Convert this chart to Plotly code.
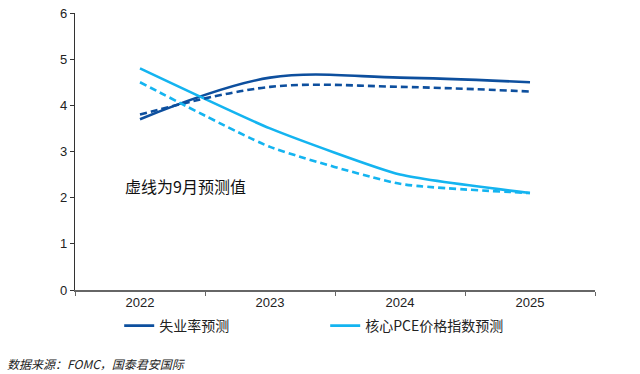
import plotly.graph_objects as go

years = ["2022", "2023", "2024", "2025"]
unemp_dec = [3.7, 4.6, 4.6, 4.5]
unemp_sep = [3.8, 4.4, 4.4, 4.3]
pce_dec = [4.8, 3.5, 2.5, 2.1]
pce_sep = [4.5, 3.1, 2.3, 2.1]
y_ticks = [0, 1, 2, 3, 4, 5, 6]

dark = "#0D4F9E"
light = "#14B4F0"

fig = go.Figure()
fig.add_trace(go.Scatter(x=years, y=unemp_dec, mode="lines", name="失业率预测",
                         line=dict(color=dark, width=2.6, shape="spline", smoothing=1.0)))
fig.add_trace(go.Scatter(x=years, y=pce_dec, mode="lines", name="核心PCE价格指数预测",
                         line=dict(color=light, width=2.6, shape="spline", smoothing=0.5)))
fig.add_trace(go.Scatter(x=years, y=unemp_sep, mode="lines", showlegend=False,
                         line=dict(color=dark, width=2.6, dash="7px,4px", shape="spline", smoothing=1.0)))
fig.add_trace(go.Scatter(x=years, y=pce_sep, mode="lines", showlegend=False,
                         line=dict(color=light, width=2.6, dash="7px,4px", shape="spline", smoothing=0.5)))

fig.update_layout(
    width=640, height=374,
    margin=dict(l=75, r=45, t=13, b=84, autoexpand=False),
    paper_bgcolor="white", plot_bgcolor="white",
    font=dict(family="Liberation Sans, Arial, sans-serif", size=13, color="#222"),
    showlegend=True,
    legend=dict(orientation="h", x=0.085, y=-0.13, xanchor="left", yanchor="middle",
                itemwidth=30, entrywidth=161, entrywidthmode="pixels",
                font=dict(family="Noto Sans CJK SC, sans-serif", size=14, color="#222")),
    xaxis=dict(type="category", range=[-0.5, 3.5], showline=True, linecolor="#666", linewidth=1.5,
               ticks="outside", tickson="boundaries", ticklen=4, tickcolor="#666",
               showgrid=False, zeroline=False, tickfont=dict(size=13)),
    yaxis=dict(range=[0, 6], tickvals=y_ticks, showline=True, linecolor="#333", linewidth=1.2,
               ticks="outside", ticklen=4, tickcolor="#333", showgrid=False, zeroline=False,
               tickfont=dict(size=13)),
)

fig.add_annotation(x=0.092, y=2.25, xref="paper", yref="y", text="虚线为9月预测值", showarrow=False,
                   xanchor="left", yanchor="middle",
                   font=dict(family="Noto Sans CJK SC, sans-serif", size=16, color="#111"))
fig.add_annotation(x=-0.134, y=-0.266, xref="paper", yref="paper", text="<i>数据来源：FOMC，国泰君安国际</i>",
                   showarrow=False, xanchor="left", yanchor="middle",
                   font=dict(family="Noto Sans CJK SC, sans-serif", size=12, color="#222"))

fig.write_html("out.html", config={"displayModeBar": False},
               post_script="document.body.style.margin='0px';document.body.style.overflow='hidden';")
